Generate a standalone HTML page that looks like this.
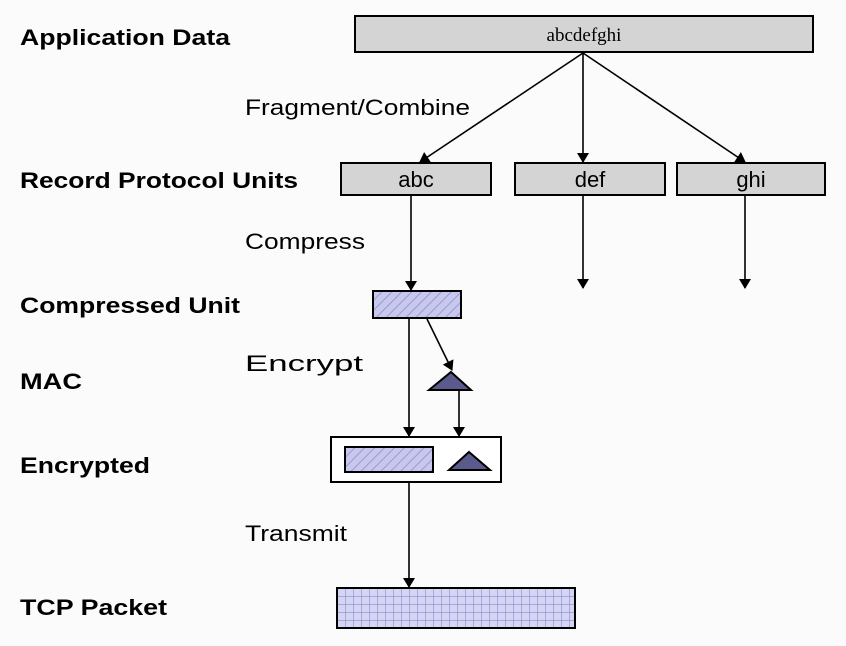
<!DOCTYPE html>
<html><head><meta charset="utf-8"><style>html,body{margin:0;padding:0;background:#fbfbfb}svg{display:block}</style></head>
<body>
<svg width="846" height="646" viewBox="0 0 846 646" xmlns="http://www.w3.org/2000/svg">
<defs>
<marker id="a" markerWidth="10" markerHeight="12" refX="9" refY="6" orient="auto" markerUnits="userSpaceOnUse"><path d="M0,0 L10,6 L0,12 z" fill="#000"/></marker>
<pattern id="h" width="7" height="7" patternUnits="userSpaceOnUse" patternTransform="rotate(45)"><rect width="7" height="7" fill="#c8c8ee"/><line x1="0" y1="0" x2="0" y2="7" stroke="#9a9ad0" stroke-width="2"/></pattern>
<pattern id="g" width="8" height="8" patternUnits="userSpaceOnUse" x="337" y="588"><rect width="8" height="8" fill="#d4d4f4"/><path d="M0,0 H8 M0,0 V8" stroke="#8a8ac8" stroke-width="1.2"/></pattern>
</defs>
<rect width="846" height="646" fill="#fbfbfb"/>
<g font-family="Liberation Sans, sans-serif" fill="#000">
<g font-weight="bold" font-size="22">
<text x="20" y="45" textLength="210" lengthAdjust="spacingAndGlyphs">Application Data</text>
<text x="20" y="188" textLength="278" lengthAdjust="spacingAndGlyphs">Record Protocol Units</text>
<text x="20" y="313" textLength="220" lengthAdjust="spacingAndGlyphs">Compressed Unit</text>
<text x="20" y="389" textLength="62" lengthAdjust="spacingAndGlyphs">MAC</text>
<text x="20" y="473" textLength="130" lengthAdjust="spacingAndGlyphs">Encrypted</text>
<text x="20" y="615" textLength="147" lengthAdjust="spacingAndGlyphs">TCP Packet</text>
</g>
<g font-size="22">
<text x="245" y="115" textLength="225" lengthAdjust="spacingAndGlyphs">Fragment/Combine</text>
<text x="245" y="249" textLength="120" lengthAdjust="spacingAndGlyphs">Compress</text>
<text x="245" y="371" textLength="118" lengthAdjust="spacingAndGlyphs">Encrypt</text>
<text x="245" y="541" textLength="102" lengthAdjust="spacingAndGlyphs">Transmit</text>
</g>
</g>
<g stroke="#000" stroke-width="2">
<rect x="355" y="16" width="458" height="36" fill="#d4d4d4"/>
<rect x="341" y="163" width="150" height="32" fill="#d4d4d4"/>
<rect x="515" y="163" width="150" height="32" fill="#d4d4d4"/>
<rect x="677" y="163" width="148" height="32" fill="#d4d4d4"/>
<rect x="373" y="291" width="88" height="27" fill="url(#h)"/>
<rect x="331" y="437" width="170" height="45" fill="#fff"/>
<rect x="345" y="447" width="88" height="25" fill="url(#h)"/>
<rect x="337" y="588" width="238" height="40" fill="url(#g)"/>
<path d="M451,372 L471,390 L429,390 z" fill="#5a5a8c"/>
<path d="M469,452 L490,470 L449,470 z" fill="#5a5a8c"/>
<g fill="none" marker-end="url(#a)" stroke-width="1.6">
<line x1="583" y1="53" x2="420" y2="162"/>
<line x1="583" y1="53" x2="583" y2="162"/>
<line x1="583" y1="53" x2="745" y2="162"/>
<line x1="411" y1="195" x2="411" y2="290"/>
<line x1="583" y1="195" x2="583" y2="288"/>
<line x1="745" y1="195" x2="745" y2="288"/>
<line x1="427" y1="319" x2="452" y2="370"/>
<line x1="409" y1="319" x2="409" y2="436"/>
<line x1="459" y1="391" x2="459" y2="436"/>
<line x1="409" y1="483" x2="409" y2="587"/>
</g>
</g>
<text x="584" y="41" font-family="Liberation Serif, serif" font-size="19" text-anchor="middle">abcdefghi</text>
<g font-family="Liberation Sans, sans-serif" font-size="22" text-anchor="middle">
<text x="416" y="187">abc</text><text x="590" y="187">def</text><text x="751" y="187">ghi</text>
</g>
</svg>
</body></html>
